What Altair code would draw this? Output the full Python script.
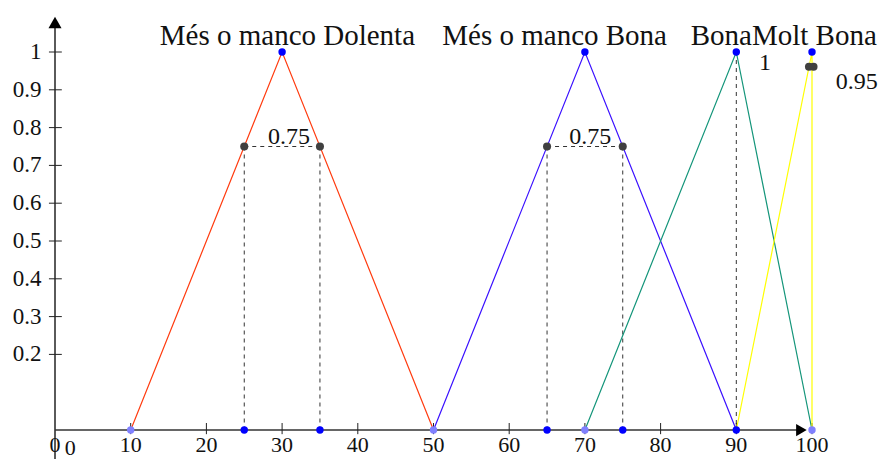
import altair as alt
import pandas as pd

# ---- data ----
series_names = ["dolenta", "bona_mm", "bona", "molt"]
series_x = [[10, 30, 50], [50, 70, 90], [70, 90, 100], [90, 100, 100]]
series_y = [[0, 1, 0], [0, 1, 0], [0, 1, 0], [0, 1, 0]]
series_colors = ["#ff3b0f", "#3a10ff", "#14957a", "#ffff00"]

dash_x = [25, 35, 65, 75, 90, 25, 65]
dash_y = [0.75, 0.75, 0.75, 0.75, 1.0, 0.75, 0.75]
dash_x2 = [25, 35, 65, 75, 90, 35, 75]
dash_y2 = [0, 0, 0, 0, 0, 0.75, 0.75]

top_x = [30, 70, 90, 100]
top_y = [1, 1, 1, 1]
axis_blue_x = [25, 35, 65, 75, 90]
axis_light_x = [10, 50, 70, 100]
gray_x = [25, 35, 65, 75, 99.6, 100.2]
gray_y = [0.75, 0.75, 0.75, 0.75, 0.961, 0.961]

label_text = ["Més o manco Dolenta", "Més o manco Bona", "Bona", "Molt Bona"]
label_x = [30.7, 66.0, 92.07, 92.07]
label_align = ["center", "center", "right", "left"]

val_text = ["0.75", "0.75", "1", "0.95"]
val_x = [30.9, 70.7, 93.8, 108.7]
val_y = [0.775, 0.775, 0.97, 0.92]
val_align = ["center", "center", "center", "right"]

yticks = [0.2, 0.3, 0.4, 0.5, 0.6, 0.7, 0.8, 0.9, 1.0]
ytick_labels = ["0.2", "0.3", "0.4", "0.5", "0.6", "0.7", "0.8", "0.9", "1"]
xticks = [0, 10, 20, 30, 40, 50, 60, 70, 80, 90, 100]
xtick_labels = ["0", "10", "20", "30", "40", "50", "60", "70", "80", "90", "100"]

XMIN, XMAX = -6.209, 108.983
YMIN, YMAX = -0.0767, 1.1164
FONT = "Liberation Serif"

xs = alt.Scale(domain=[XMIN, XMAX], nice=False, zero=False)
ys = alt.Scale(domain=[YMIN, YMAX], nice=False, zero=False)
X = lambda f="x": alt.X(f"{f}:Q", scale=xs, axis=None)
Y = lambda f="y": alt.Y(f"{f}:Q", scale=ys, axis=None)

# ---- tables ----
rows = []
for n, sx, sy in zip(series_names, series_x, series_y):
    for i, (a, b) in enumerate(zip(sx, sy)):
        rows.append({"s": n, "x": a, "y": b, "o": i})
lines_df = pd.DataFrame(rows)

dash_df = pd.DataFrame({"x": dash_x, "y": dash_y, "x2": dash_x2, "y2": dash_y2})

# axes
yaxis_line = alt.Chart(pd.DataFrame({"x": [0], "y": [YMIN], "y2": [1.07]})).mark_rule(
    color="black", strokeWidth=1.3).encode(x=X(), y=Y(), y2="y2:Q")
xaxis_line = alt.Chart(pd.DataFrame({"x": [0], "x2": [98.5], "y": [0]})).mark_rule(
    color="#333333", strokeWidth=1.3).encode(x=X(), x2="x2:Q", y=Y())
yarrow = alt.Chart(pd.DataFrame({"x": [0], "y": [1.078]})).mark_point(
    shape="triangle-up", filled=True, color="black", size=170, opacity=1).encode(x=X(), y=Y())
xarrow = alt.Chart(pd.DataFrame({"x": [98.6], "y": [0]})).mark_point(
    shape="triangle-right", filled=True, color="black", size=150, opacity=1).encode(x=X(), y=Y())

ytick_df = pd.DataFrame({"y": yticks, "lab": ytick_labels, "x": [-0.8] * len(yticks),
                         "x2": [0.9] * len(yticks), "lx": [-1.8] * len(yticks)})
ytick_marks = alt.Chart(ytick_df).mark_rule(color="#222222", strokeWidth=1).encode(
    x=X(), x2="x2:Q", y=Y())
ytick_text = alt.Chart(ytick_df).mark_text(
    align="right", baseline="middle", font=FONT, fontSize=23, color="#111111").encode(
    x=X("lx"), y=Y(), text="lab:N")

xtick_df = pd.DataFrame({"x": xticks, "lab": xtick_labels, "y": [0.0185] * len(xticks),
                         "y2": [-0.011] * len(xticks), "ly": [-0.0585] * len(xticks)})
xtick_marks = alt.Chart(xtick_df[xtick_df.x > 0]).mark_rule(color="#222222", strokeWidth=1).encode(
    x=X(), y=Y(), y2="y2:Q")
xtick_text = alt.Chart(xtick_df).mark_text(
    align="center", baseline="alphabetic", font=FONT, fontSize=22, color="#111111").encode(
    x=X(), y=Y("ly"), text="lab:N")
yzero = alt.Chart(pd.DataFrame({"x": [2.0], "y": [-0.065], "t": ["0"]})).mark_text(
    align="center", baseline="alphabetic", font=FONT, fontSize=22, color="#111111").encode(
    x=X(), y=Y(), text="t:N")

# data marks
dashes = alt.Chart(dash_df).mark_rule(color="#333333", strokeWidth=1, strokeDash=[4, 4]).encode(
    x=X(), y=Y(), x2="x2:Q", y2="y2:Q")
lines = alt.Chart(lines_df).mark_line(strokeWidth=1.2).encode(
    x=X(), y=Y(), order="o:Q",
    color=alt.Color("s:N", scale=alt.Scale(domain=series_names, range=series_colors), legend=None))

top_pts = alt.Chart(pd.DataFrame({"x": top_x, "y": top_y})).mark_circle(
    color="#0000ff", size=55, opacity=1).encode(x=X(), y=Y())
blue_axis_pts = alt.Chart(pd.DataFrame({"x": axis_blue_x, "y": [0] * len(axis_blue_x)})).mark_circle(
    color="#0000ff", size=55, opacity=1).encode(x=X(), y=Y())
light_pts = alt.Chart(pd.DataFrame({"x": axis_light_x, "y": [0] * len(axis_light_x)})).mark_circle(
    color="#8080ff", size=55, opacity=1).encode(x=X(), y=Y())
gray_pts = alt.Chart(pd.DataFrame({"x": gray_x, "y": gray_y})).mark_circle(
    color="#404040", size=65, opacity=1).encode(x=X(), y=Y())

lab_df = pd.DataFrame({"t": label_text, "x": label_x, "y": [1.0185] * 4})
labels = alt.layer(*[
    alt.Chart(lab_df.iloc[[i]]).mark_text(
        align=label_align[i], baseline="alphabetic", font=FONT, fontSize=29, color="#111111").encode(
        x=X(), y=Y(), text="t:N")
    for i in range(len(label_text))
])

val_df = pd.DataFrame({"t": val_text, "x": val_x, "y": val_y})
vals = alt.layer(*[
    alt.Chart(val_df.iloc[[i]]).mark_text(
        align=val_align[i], baseline="middle", font=FONT, fontSize=24, color="#111111").encode(
        x=X(), y=Y(), text="t:N")
    for i in range(len(val_text))
])

chart = alt.layer(
    dashes, yaxis_line, xaxis_line, ytick_marks, xtick_marks, lines,
    yarrow, xarrow, ytick_text, xtick_text, yzero,
    light_pts, blue_axis_pts, top_pts, gray_pts, labels, vals,
).properties(
    width=872, height=451, padding=0, autosize=alt.AutoSizeParams(type="none")
).configure_view(stroke=None)

chart.save("out.html", embed_options={"renderer": "svg", "actions": False})
